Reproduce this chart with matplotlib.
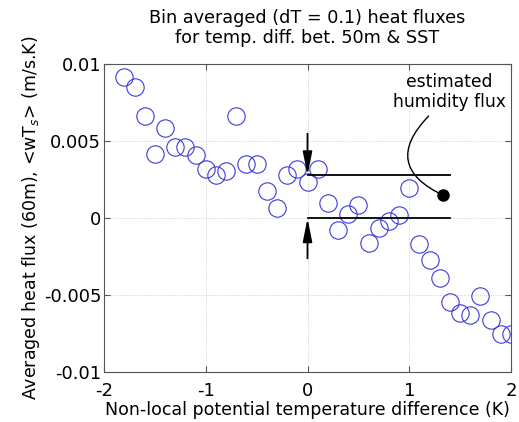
import numpy as np
import matplotlib
matplotlib.use('Agg')
import matplotlib.pyplot as plt

# bin centres (K) and averaged heat flux
dT = [-1.8, -1.7, -1.6, -1.5, -1.4, -1.3, -1.2, -1.1, -1.0, -0.9,
      -0.8, -0.7, -0.6, -0.5, -0.4, -0.3, -0.2, -0.1, 0.0, 0.1,
      0.2, 0.3, 0.4, 0.5, 0.6, 0.7, 0.8, 0.9, 1.0, 1.1,
      1.2, 1.3, 1.4, 1.5, 1.6, 1.7, 1.8, 1.9, 2.0]
flux = [0.00916, 0.00855, 0.00664, 0.00419, 0.00584, 0.00461, 0.00465,
        0.00413, 0.00322, 0.00281, 0.00305, 0.00664, 0.00351, 0.00351,
        0.00177, 0.00065, 0.00279, 0.00318, 0.00236, 0.00322, 0.00097,
        -0.00076, 0.00025, 0.00086, -0.00158, -0.00065, -0.00016,
        0.00021, 0.00195, -0.00167, -0.00271, -0.0039, -0.00542,
        -0.00613, -0.00628, -0.00505, -0.0066, -0.00751, -0.00751]

# levels used for the humidity flux estimate
level_hi = 0.0028
level_lo = 0.0
x_end = 1.4
dot = (1.333, 0.0015)

xticks = [-2, -1, 0, 1, 2]
xticklabels = ['-2', '-1', '0', '1', '2']
yticks = [-0.01, -0.005, 0, 0.005, 0.01]
yticklabels = ['-0.01', '-0.005', '0', '0.005', '0.01']

plt.rcParams['font.family'] = 'DejaVu Sans'

fig = plt.figure(figsize=(5.19, 4.22), dpi=100)
ax = fig.add_axes([0.2004, 0.1178, 0.7842, 0.7298])

ax.plot(dT, flux, 'o', mfc='none', mec='#3a3ad8', ms=12.5, mew=0.8)

ax.plot([0, x_end], [level_hi, level_hi], 'k-', lw=1.3)
ax.plot([0, x_end], [level_lo, level_lo], 'k-', lw=1.3)

# arrows pointing at the two levels
arrow = dict(arrowstyle='-|>,head_length=1.4,head_width=0.28',
             color='k', lw=1.3, shrinkA=0, shrinkB=0)
ax.annotate('', xy=(0, level_hi), xytext=(0, 0.0055), arrowprops=arrow)
ax.annotate('', xy=(0, level_lo), xytext=(0, -0.0026), arrowprops=arrow)

ax.plot(dot[0], dot[1], 'ko', ms=8)
ax.annotate('', xy=dot, xytext=(1.19, 0.00664),
            arrowprops=dict(arrowstyle='-', color='k', lw=1.0,
                            shrinkA=0, shrinkB=0,
                            connectionstyle='arc3,rad=0.7'))
ax.text(1.39, 0.0082, 'estimated\nhumidity flux', ha='center',
        va='center', fontsize=12.3)

ax.set_xlim(-2, 2)
ax.set_ylim(-0.01, 0.01)
ax.set_xticks(xticks)
ax.set_xticklabels(xticklabels, fontsize=13)
ax.set_yticks(yticks)
ax.set_yticklabels(yticklabels, fontsize=13)
ax.tick_params(direction='in', top=True, right=True, length=4,
               color='#555555', pad=2)
ax.tick_params(axis='x', pad=7)
for s in ax.spines.values():
    s.set_color('#555555')
ax.grid(True, ls=':', color='#c4c4c4', lw=0.6)

ax.set_title('Bin averaged (dT = 0.1) heat fluxes\nfor temp. diff. bet. 50m & SST',
             fontsize=12.7, pad=15)
ax.set_xlabel('Non-local potential temperature difference (K)', fontsize=12.5,
              labelpad=1)
ax.set_ylabel('Averaged heat flux (60m), <wT$_s$> (m/s.K)', fontsize=12.5,
              labelpad=1)

plt.savefig('out.png', dpi=100)
